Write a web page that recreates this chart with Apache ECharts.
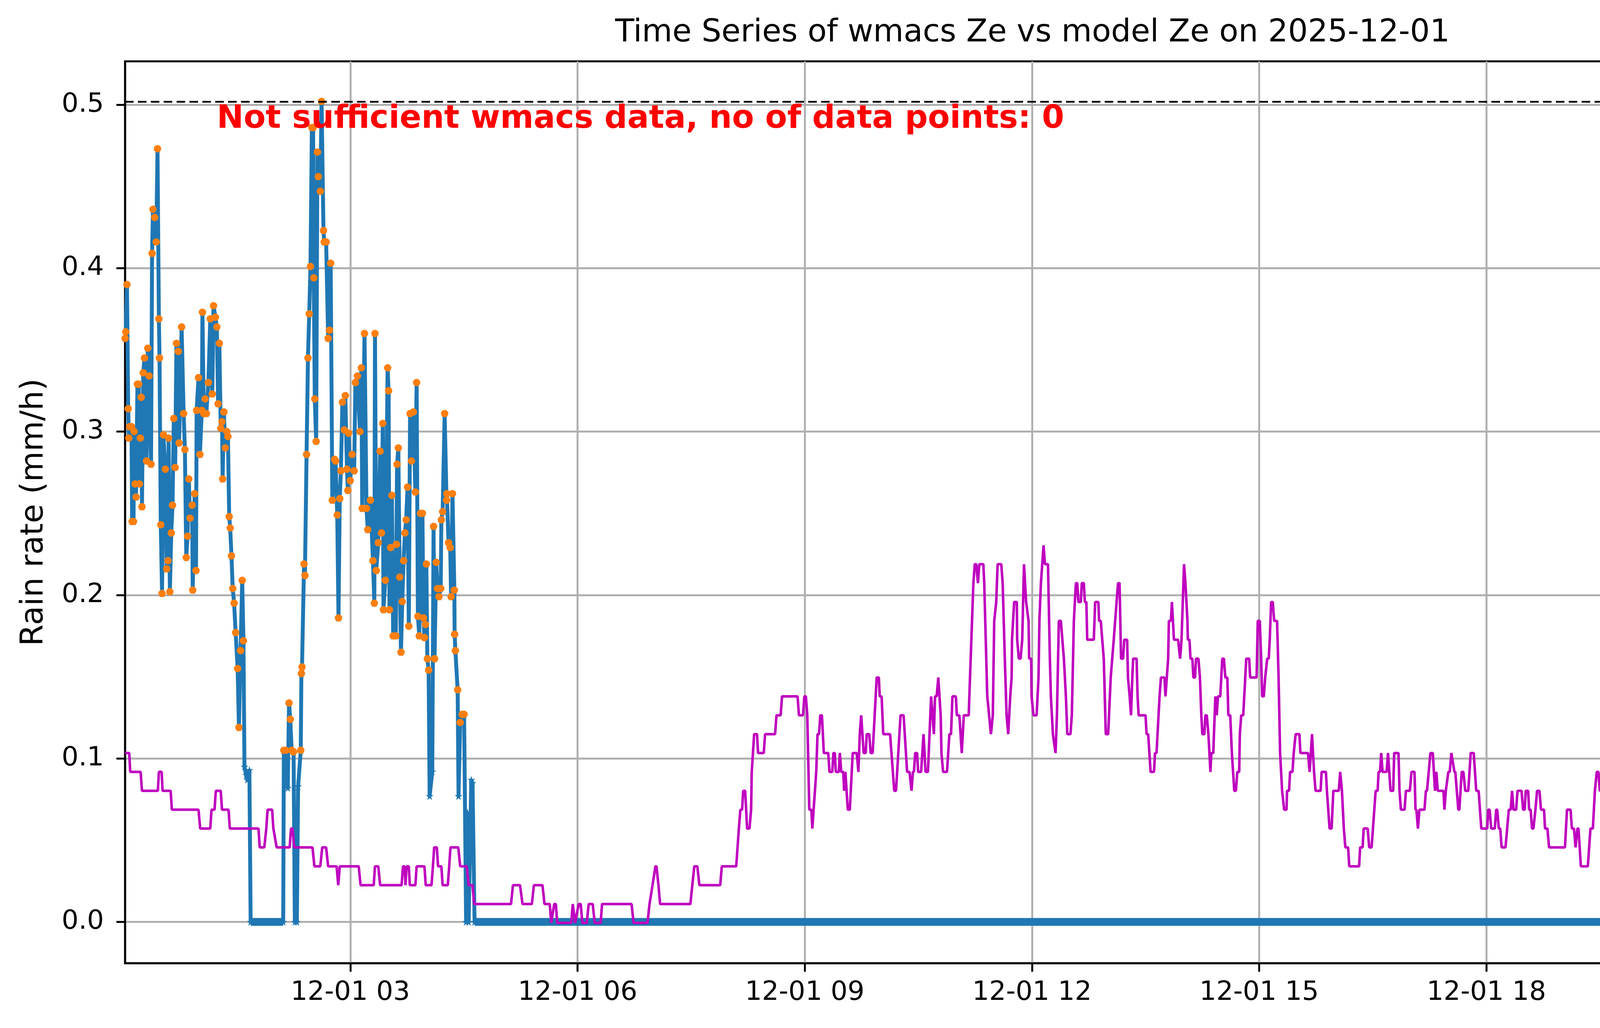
<!DOCTYPE html>
<html>
<head>
<meta charset="utf-8">
<script src="https://cdn.jsdelivr.net/npm/echarts@6/dist/echarts.min.js"></script>
<style>
html,body{margin:0;padding:0;background:#fff;}
#chart{width:5219px;height:2631px;}
</style>
</head>
<body>
<div id="chart"></div>
<script>
// ---------- DATA (minutes after 2025-12-01 00:00) ----------
const titleText = 'Time Series of wmacs Ze vs model Ze on 2025-12-01';
const warnText = 'Not sufficient wmacs data, no of data points: 0';
const leftLabel = 'Rain rate (mm/h)';
const rightLabel = 'Temperature (° C)';
const seriesNames = ['before filtering', 'after filtering'];

const xTickMinutes = [180, 360, 540, 720, 900, 1080, 1260];
const rainTicks = [0, 0.1, 0.2, 0.3, 0.4, 0.5];
const tempTicks = [1, 2, 3, 4, 5];
const tempThreshold = 5;
const filterThreshold = 0.1;

// rain rate (before filtering) [minute, mm/h]
const rainSeries = [
[1.5,.357],[2.1,.361],[3.0,.390],[4.0,.314],[4.5,.296],[5.1,.303],[6.6,.303],[7.1,.245],[8.2,.245],[8.7,.300],
[9.5,.268],[10.2,.260],[11.3,.329],[12.3,.329],[12.8,.268],[13.6,.296],[14.3,.321],[14.9,.254],[15.9,.336],[16.9,.345],
[18.5,.282],[19.5,.351],[20.5,.334],[22.1,.280],[22.9,.409],[23.6,.436],[25.0,.431],[26.2,.416],[27.2,.473],[28.3,.369],
[28.8,.345],[29.8,.243],[30.8,.201],[31.9,.298],[33.4,.277],[34.5,.216],[35.5,.221],[36.0,.296],[37.0,.202],[38.1,.238],
[39.1,.255],[40.1,.308],[41.2,.278],[42.2,.354],[43.7,.349],[44.3,.293],[46.3,.364],[47.9,.311],[48.9,.289],[50.0,.223],
[51.0,.236],[52.0,.271],[53.0,.247],[54.6,.255],[55.1,.203],[56.6,.262],[57.7,.215],[58.2,.313],[59.7,.333],[60.8,.286],
[62.3,.313],[62.8,.373],[63.9,.311],[64.9,.320],[65.9,.311],[67.5,.330],[69.0,.369],[70.6,.323],[71.6,.377],[73.1,.370],
[74.2,.364],[75.2,.317],[76.2,.354],[77.3,.302],[78.3,.306],[78.8,.271],[79.8,.312],[80.9,.290],[82.1,.300],[83.0,.297],
[84.0,.248],[84.8,.241],[85.8,.224],[86.8,.204],[87.9,.195],[89.1,.177],[90.7,.155],[91.7,.119],[93.0,.166],[94.3,.209],
[95.3,.172],[96.1,.095],[97.4,.090],[98.4,.087],[100.0,.093],[101.0,0],[126.8,0],[127.3,.105],[128.8,.105],[130.4,.082],
[131.4,.134],[132.4,.124],[133.5,.105],[135.0,.104],[136.0,0],[137.6,0],[138.6,.083],[140.7,.105],[141.2,.152],[141.7,.156],
[143.3,.219],[144.0,.212],[145.3,.286],[146.4,.345],[147.4,.372],[148.4,.401],[149.5,.486],[150.5,.486],[151.0,.394],[151.8,.320],
[152.9,.294],[153.9,.471],[154.6,.456],[156.2,.447],[157.2,.502],[158.7,.423],[159.3,.416],[160.8,.416],[162.4,.357],[163.4,.362],
[164.4,.403],[165.7,.258],[167.5,.283],[168.3,.282],[169.6,.249],[170.6,.186],[171.6,.259],[172.5,.276],[173.7,.318],[175.2,.301],
[176.0,.322],[177.3,.277],[178.0,.264],[178.6,.299],[179.9,.270],[181.4,.286],[183.0,.276],[184.0,.330],[185.6,.334],[187.6,.300],
[188.7,.339],[189.4,.253],[191.2,.360],[192.8,.253],[193.8,.240],[195.9,.258],[197.9,.221],[199.0,.195],[199.5,.360],[200.5,.215],
[202.1,.232],[203.6,.288],[204.6,.238],[205.7,.305],[206.2,.191],[207.7,.209],[209.5,.339],[210.3,.325],[211.0,.191],[211.9,.229],
[212.9,.261],[213.9,.175],[216.0,.175],[216.5,.231],[217.0,.280],[218.0,.290],[219.1,.211],[220.1,.165],[221.1,.196],[222.2,.221],
[223.2,.238],[224.2,.246],[225.3,.266],[226.3,.181],[227.3,.311],[228.4,.282],[229.9,.312],[231.5,.263],[232.5,.330],[233.5,.187],
[234.6,.175],[235.6,.250],[237.1,.250],[237.9,.186],[238.7,.174],[239.5,.182],[240.2,.219],[241.0,.161],[242.0,.154],[242.8,.077],
[244.9,.092],[245.9,.242],[246.7,.161],[248.0,.220],[249.0,.204],[250.2,.199],[251.6,.204],[252.1,.246],[253.1,.251],[254.7,.311],
[256.2,.258],[256.4,.262],[257.8,.232],[259.1,.229],[259.8,.199],[260.9,.262],[262.4,.203],[262.6,.176],[263.2,.166],[265.0,.142],
[265.7,.077],[267.0,.122],[268.6,.127],[270.1,.127],[271.7,0],[272.7,.067],[273.7,0],[275.8,.087],[276.8,.085],[278.4,0],
[1439.3,0]
];
// stretches where the 1-minute rain record is 0 (dense star markers) [start, end]
const zeroRuns = [[101.0, 126.8], [278.4, 1439.3]];

// temperature [minute, deg C]
const tempSeries = [
[1.5,1.55],[4.8,1.55],[5.6,1.45],[13.8,1.45],[14.9,1.35],[27.5,1.35],[28.3,1.45],[30.5,1.45],[31.2,1.35],[37.6,1.35],
[38.6,1.25],[59.7,1.25],[61.0,1.15],[69.0,1.15],[70.0,1.25],[72.4,1.25],[73.4,1.35],[77.3,1.35],[78.3,1.25],[83.5,1.25],
[84.5,1.15],[107.2,1.15],[108.2,1.05],[111.8,1.05],[113.4,1.15],[114.4,1.25],[118.0,1.25],[119.0,1.15],[121.6,1.05],[131.9,1.05],
[133.0,1.15],[134.2,1.15],[135.5,1.05],[150.0,1.05],[151.5,0.95],[156.2,0.95],[157.7,1.05],[160.8,1.05],[162.4,0.95],[169.1,0.95],
[170.4,0.85],[171.6,0.95],[186.6,0.95],[188.1,0.85],[198.5,0.85],[199.5,0.95],[202.1,0.95],[203.6,0.85],[220.6,0.85],[221.7,0.95],
[223.0,0.95],[223.7,0.85],[224.5,0.95],[226.3,0.95],[227.1,0.85],[231.5,0.85],[232.5,0.95],[238.7,0.95],[239.7,0.85],[244.3,0.85],
[245.4,0.95],[246.4,1.05],[248.5,1.05],[249.5,0.95],[252.1,0.95],[253.1,0.85],[257.2,0.85],[258.3,0.95],[259.3,1.05],[265.5,1.05],
[267.0,0.95],[272.2,0.95],[273.7,0.85],[276.8,0.85],[278.1,0.75],[307.3,0.75],[308.8,0.85],[314.4,0.85],[316.4,0.75],[323.8,0.75],
[325.4,0.85],[332.2,0.85],[333.8,0.75],[338.0,0.75],[339.1,0.65],[341.5,0.75],[342.8,0.75],[343.9,0.65],[355.0,0.65],[356.2,0.75],
[358.1,0.65],[360.9,0.75],[362.5,0.75],[363.8,0.65],[367.3,0.65],[368.8,0.75],[372.0,0.75],[373.6,0.65],[378.3,0.65],[379.4,0.75],
[402.8,0.75],[404.4,0.65],[415.4,0.65],[417.0,0.75],[419.4,0.85],[421.7,0.95],[422.5,0.95],[424.1,0.85],[425.4,0.75],[449.4,0.75],
[450.9,0.85],[452.5,0.95],[454.9,0.95],[456.5,0.85],[473.0,0.85],[474.3,0.95],[485.7,0.95],[487.8,1.15],[489.0,1.25],[490.4,1.25],
[491.2,1.35],[492.8,1.35],[494.3,1.15],[496.2,1.15],[497.5,1.25],[498.0,1.45],[499.9,1.65],[502.2,1.65],[503.0,1.55],[507.5,1.55],
[508.6,1.65],[516.5,1.65],[517.6,1.75],[520.9,1.75],[522.0,1.85],[534.3,1.85],[535.4,1.75],[538.6,1.75],[539.7,1.85],[540.9,1.85],
[542.0,1.75],[543.6,1.25],[545.2,1.25],[546.0,1.15],[549.1,1.45],[550.1,1.65],[551.3,1.65],[552.3,1.75],[553.6,1.75],[555.1,1.55],
[558.6,1.55],[559.6,1.45],[561.8,1.45],[562.7,1.55],[563.8,1.55],[564.6,1.45],[567.0,1.45],[567.8,1.55],[568.9,1.45],[570.5,1.45],
[571.2,1.35],[572.2,1.45],[574.1,1.25],[575.7,1.25],[578.0,1.55],[581.2,1.55],[582.5,1.45],[583.6,1.65],[584.7,1.75],[586.7,1.55],
[588.3,1.55],[589.1,1.65],[591.1,1.65],[592.2,1.55],[593.8,1.55],[597.0,1.95],[598.7,1.95],[599.4,1.85],[600.9,1.85],[602.2,1.65],
[607.6,1.65],[610.9,1.35],[612.3,1.35],[615.9,1.75],[618.3,1.75],[621.1,1.45],[623.0,1.45],[624.6,1.35],[625.7,1.45],[626.5,1.45],
[627.5,1.55],[629.0,1.55],[629.8,1.45],[632.2,1.45],[634.1,1.65],[635.7,1.45],[637.6,1.45],[640.1,1.85],[642.3,1.65],[643.2,1.85],
[644.5,1.85],[645.8,1.95],[647.7,1.75],[648.3,1.55],[649.6,1.45],[652.7,1.45],[654.6,1.65],[655.9,1.65],[657.0,1.85],[659.7,1.85],
[660.5,1.75],[662.5,1.75],[664.4,1.55],[666.0,1.75],[669.9,1.75],[670.4,1.85],[673.6,2.45],[674.7,2.55],[675.9,2.55],[677.2,2.45],
[678.3,2.55],[681.5,2.55],[682.2,2.45],[684.6,1.85],[687.5,1.65],[689.0,1.75],[690.1,2.25],[691.7,2.35],[692.8,2.55],[695.7,2.55],
[696.8,2.45],[698.5,2.05],[699.9,1.75],[701.2,1.65],[702.8,1.85],[703.9,1.95],[704.2,2.15],[705.9,2.35],[708.0,2.35],[708.3,2.15],
[709.6,2.05],[711.0,2.05],[712.3,2.15],[713.7,2.55],[715.4,2.35],[717.3,2.25],[717.8,2.05],[719.4,2.05],[719.7,1.85],[721.2,1.75],
[723.7,1.75],[725.2,1.95],[725.9,2.25],[727.1,2.45],[729.2,2.65],[730.3,2.55],[732.7,2.55],[734.2,2.05],[735.0,1.85],[736.6,1.65],
[738.7,1.55],[739.8,1.75],[741.3,2.25],[742.9,2.25],[745.3,2.05],[746.9,1.85],[748.0,1.65],[750.5,1.65],[751.6,1.75],[753.2,2.25],
[754.8,2.45],[755.9,2.45],[756.8,2.35],[758.7,2.35],[759.5,2.45],[761.1,2.45],[761.9,2.35],[763.1,2.35],[763.8,2.15],[769.0,2.15],
[770.1,2.35],[772.6,2.35],[773.2,2.25],[774.5,2.25],[776.9,2.05],[778.5,1.65],[780.4,1.65],[782.4,1.95],[784.8,2.15],[788.2,2.45],
[789.4,2.45],[790.6,2.05],[792.2,2.05],[793.1,2.15],[795.4,2.15],[796.1,1.95],[797.4,1.85],[798.5,1.75],[799.5,1.95],[800.2,2.05],
[802.9,2.05],[803.7,1.85],[804.5,1.75],[810.0,1.75],[810.8,1.65],[812.1,1.65],[814.0,1.45],[816.7,1.45],[817.5,1.55],[818.7,1.55],
[821.1,1.85],[822.2,1.95],[825.0,1.95],[825.8,1.85],[827.9,2.05],[828.5,2.25],[830.1,2.25],[830.9,2.35],[832.5,2.15],[835.8,2.15],
[837.4,2.05],[838.5,2.15],[840.5,2.55],[841.6,2.45],[843.2,2.25],[843.5,2.15],[844.8,2.15],[845.6,2.05],[847.1,2.05],[847.9,1.95],
[849.2,1.95],[850.0,2.05],[851.9,2.05],[853.1,1.95],[854.2,1.75],[855.0,1.65],[856.6,1.65],[857.4,1.75],[858.5,1.75],[859.8,1.65],
[861.4,1.45],[862.1,1.55],[863.7,1.55],[864.2,1.65],[865.3,1.85],[866.4,1.75],[867.4,1.85],[869.2,1.85],[870.8,2.05],[872.1,2.05],
[873.2,1.95],[874.8,1.95],[875.6,1.75],[877.1,1.75],[878.4,1.55],[880.3,1.35],[881.6,1.35],[882.7,1.45],[884.2,1.45],[884.7,1.65],
[885.8,1.75],[887.4,1.75],[889.8,2.05],[892.1,2.05],[892.9,1.95],[898.0,1.95],[898.9,2.25],[900.5,2.25],[901.6,2.05],[902.4,1.85],
[903.7,1.85],[904.8,1.95],[906.4,2.05],[907.6,2.05],[908.4,2.15],[909.5,2.35],[910.8,2.35],[911.9,2.25],[914.2,2.25],[915.4,1.95],
[916.6,1.55],[918.2,1.35],[919.8,1.25],[921.7,1.25],[922.1,1.35],[923.7,1.35],[924.5,1.45],[926.4,1.45],[927.4,1.55],[928.9,1.65],
[931.9,1.65],[932.7,1.55],[938.7,1.55],[940.0,1.45],[941.9,1.65],[943.5,1.45],[944.7,1.35],[948.7,1.35],[949.5,1.45],[952.9,1.45],
[953.7,1.35],[955.8,1.15],[957.4,1.15],[958.8,1.35],[963.1,1.35],[964.2,1.45],[965.6,1.35],[967.1,1.15],[968.3,1.05],[970.5,1.05],
[971.4,0.95],[979.2,0.95],[980.0,1.05],[982.0,1.05],[982.8,1.15],[986.0,1.15],[987.2,1.05],[989.1,1.05],[992.3,1.35],[993.9,1.35],
[994.6,1.45],[995.8,1.45],[996.7,1.55],[997.8,1.45],[1001.0,1.45],[1002.1,1.55],[1004.1,1.35],[1006.2,1.35],[1007.0,1.55],[1010.4,1.55],
[1011.2,1.35],[1012.3,1.25],[1015.2,1.25],[1016.3,1.35],[1019.4,1.35],[1020.7,1.45],[1023.1,1.45],[1023.9,1.25],[1024.6,1.25],[1025.8,1.15],
[1027.0,1.25],[1031.0,1.25],[1032.1,1.35],[1033.0,1.35],[1035.7,1.55],[1037.6,1.55],[1039.3,1.35],[1040.4,1.45],[1041.5,1.35],[1046.0,1.35],
[1046.8,1.25],[1047.9,1.35],[1049.9,1.45],[1051.0,1.45],[1052.3,1.55],[1052.8,1.55],[1054.7,1.45],[1055.4,1.45],[1057.8,1.25],[1058.6,1.25],
[1060.5,1.45],[1061.8,1.45],[1063.3,1.35],[1065.7,1.35],[1067.6,1.55],[1070.0,1.55],[1072.0,1.35],[1073.9,1.35],[1076.0,1.15],[1080.7,1.15],
[1081.5,1.25],[1082.6,1.25],[1083.9,1.15],[1086.7,1.15],[1087.8,1.25],[1088.6,1.25],[1089.9,1.15],[1091.0,1.15],[1092.1,1.05],[1095.2,1.05],
[1096.5,1.15],[1097.8,1.25],[1099.3,1.25],[1100.4,1.35],[1101.5,1.25],[1103.6,1.25],[1104.7,1.35],[1107.9,1.35],[1109.1,1.25],[1110.4,1.25],
[1111.2,1.35],[1113.1,1.35],[1113.9,1.25],[1115.1,1.25],[1116.2,1.15],[1117.3,1.15],[1118.9,1.25],[1120.2,1.35],[1122.1,1.35],[1123.3,1.25],
[1125.7,1.25],[1126.5,1.15],[1128.4,1.15],[1129.7,1.05],[1142.3,1.05],[1143.9,1.25],[1146.7,1.25],[1147.8,1.15],[1149.4,1.15],[1150.7,1.05],
[1152.1,1.15],[1153.0,1.15],[1154.9,0.95],[1160.4,0.95],[1162.5,1.15],[1164.4,1.15],[1166.0,1.35],[1167.5,1.45],[1168.8,1.45],[1169.9,1.35],
[1171.5,1.35],[1173.9,1.15],[1175.0,1.15],[1177.3,0.95],[1178.6,0.95],[1180.5,1.15],[1182.5,1.15],[1183.3,1.25],[1184.9,1.35],[1186.2,1.25],
[1187.4,1.25],[1188.6,1.35],[1191.8,1.35],[1192.8,1.45],[1194.0,1.45],[1194.8,1.55],[1195.9,1.55],[1196.9,1.45],[1198.1,1.45],[1198.9,1.25],
[1201.3,1.05],[1203.0,1.15],[1206.3,1.15],[1207.2,1.25],[1208.2,1.15],[1212.5,1.15],[1213.3,1.35],[1215.8,1.55],[1217.7,1.35],[1219.4,1.35],
[1220.2,1.25],[1221.0,1.25],[1221.8,1.15],[1224.0,1.15],[1225.1,1.05],[1227.5,1.35],[1230.0,1.35],[1232.5,1.15],[1236.6,1.15],[1237.7,1.05],
[1239.5,1.05],[1240.7,1.15],[1243.9,1.15],[1244.7,1.25],[1245.9,1.25],[1248.0,1.05],[1249.2,0.95],[1252.1,0.95],[1253.8,0.85],[1255.7,0.85],
[1258.7,1.15],[1259.8,1.15],[1261.1,1.05],[1265.2,1.05],[1266.4,1.15],[1267.2,1.15],[1268.5,1.05],[1270.1,1.05],[1271.3,0.95],[1274.2,0.95],
[1275.4,0.85],[1276.4,0.95],[1277.5,0.85],[1279.1,0.95],[1280.3,0.85],[1281.6,0.85],[1283.2,0.95],[1285.7,0.95],[1287.3,0.85],[1289.8,0.85],
[1291.8,0.75],[1293.4,0.85],[1295.5,0.85],[1296.3,0.95],[1298.0,1.15],[1300.4,1.15],[1302.9,0.95],[1313.1,0.95],[1315.2,0.75],[1318.1,0.75],
[1320.1,0.85],[1321.7,0.75],[1323.4,0.65],[1329.9,0.65],[1331.1,0.75],[1333.2,0.75],[1334.3,0.85],[1338.6,0.85],[1339.4,0.95],[1342.5,0.95],
[1343.9,0.85],[1345.5,0.95],[1347.9,0.95],[1349.6,0.75],[1351.7,0.75],[1352.9,0.65],[1363.5,0.65],[1366.0,0.85],[1367.6,0.75],[1370.9,0.75],
[1372.8,0.95],[1375.8,0.85],[1377.9,1.05],[1380.7,0.85],[1382.0,0.95],[1383.2,0.85],[1384.8,0.85],[1386.8,0.65],[1388.9,0.85],[1390.0,0.95],
[1392.2,1.05],[1394.6,1.05],[1395.4,0.95],[1399.0,0.75],[1401.2,0.85],[1404.1,0.85],[1405.3,0.95],[1416.7,0.95],[1417.9,1.05],[1420.0,1.05],
[1421.2,1.15],[1423.3,1.25],[1424.9,1.25],[1427.4,0.95],[1429.4,0.95],[1430.7,1.05],[1432.3,1.15],[1434.3,1.15],[1436.4,0.95],[1439.0,0.95]
];

// ---------- CHART ----------
const FONT = 'DejaVu Sans';
const BLUE = '#1f77b4', ORANGE = '#ff7f0e', MAG = '#bf00bf', GRID = '#b0b0b0';
const STAR = 'path://M0,-10L2.245,-3.09L9.51,-3.09L3.633,1.18L5.878,8.09L0,3.82L-5.878,8.09L-3.633,1.18L-9.51,-3.09L-2.245,-3.09Z';

const afterFiltering = rainSeries.filter(p => p[1] >= filterThreshold);
const pad2 = n => String(n).padStart(2, '0');

const chart = echarts.init(document.getElementById('chart'), null, {renderer: 'canvas'});

const zeroBandSeries = zeroRuns.map((r, i) => ({
  name: 'zero' + i, type: 'line', xAxisIndex: 0, yAxisIndex: 0,
  data: [[r[0], 0], [r[1], 0]], showSymbol: false, symbol: 'none',
  lineStyle: {color: BLUE, width: 20}, silent: true, z: 2, animation: false
}));

chart.setOption({
  animation: false,
  backgroundColor: '#ffffff',
  textStyle: {fontFamily: FONT},
  grid: {left: 320, right: 253, top: 157, bottom: 166, show: true, borderColor: '#000', borderWidth: 5, backgroundColor: 'transparent'},
  xAxis: {
    type: 'value', min: 1.45, max: 1439.3,
    axisLine: {show: true, onZero: false, lineStyle: {color: '#000', width: 5}},
    axisTick: {show: true, customValues: xTickMinutes, length: 22, lineStyle: {color: '#000', width: 5}},
    axisLabel: {customValues: xTickMinutes, formatter: v => '12-01 ' + pad2(Math.round(v / 60)), fontSize: 68, fontFamily: FONT, color: '#000', margin: 42},
    splitLine: {show: true, lineStyle: {color: GRID, width: 5}}
  },
  yAxis: [{
    type: 'value', position: 'left', min: -0.0252, max: 0.5265,
    axisLine: {show: true, onZero: false, lineStyle: {color: '#000', width: 5}},
    axisTick: {show: true, customValues: rainTicks, length: 22, lineStyle: {color: '#000', width: 5}},
    axisLabel: {customValues: rainTicks, formatter: v => v.toFixed(1), fontSize: 68, fontFamily: FONT, color: '#000', margin: 54},
    splitLine: {show: true, lineStyle: {color: GRID, width: 5}}
  }, {
    type: 'value', position: 'right', min: 0.437, max: 5.214,
    axisLine: {show: true, onZero: false, lineStyle: {color: MAG, width: 5}},
    axisTick: {show: true, customValues: tempTicks, length: 22, lineStyle: {color: '#000', width: 5}},
    axisLabel: {customValues: tempTicks, formatter: v => String(v), fontSize: 68, fontFamily: FONT, color: '#000', margin: 53},
    splitLine: {show: false}
  }],
  legend: {
    data: seriesNames, orient: 'vertical', right: 285, top: 195, align: 'left',
    itemWidth: 148, itemHeight: 20, itemGap: 34,
    padding: [14, 34, 29, 25],
    backgroundColor: 'rgba(255,255,255,0.8)', borderColor: '#cccccc', borderWidth: 4, borderRadius: 14,
    textStyle: {fontSize: 68, fontFamily: FONT, color: '#000', lineHeight: 70, padding: [0, 0, 0, 49]},
    z: 3
  },
  series: [
    ...zeroBandSeries,
    {
      name: seriesNames[0], type: 'line', xAxisIndex: 0, yAxisIndex: 0,
      data: rainSeries, symbol: STAR, symbolSize: 20, showSymbol: true, showAllSymbol: true,
      itemStyle: {color: BLUE}, lineStyle: {color: BLUE, width: 10}, z: 2
    },
    {
      name: seriesNames[1], type: 'scatter', xAxisIndex: 0, yAxisIndex: 0,
      data: afterFiltering, symbol: 'circle', symbolSize: 19,
      itemStyle: {color: ORANGE, opacity: 1}, z: 3
    },
    {
      name: 'temperature', type: 'line', xAxisIndex: 0, yAxisIndex: 1,
      data: tempSeries, showSymbol: false, symbol: 'none',
      lineStyle: {color: MAG, width: 6.5}, z: 5,
      markLine: {
        silent: true, symbol: ['none', 'none'], label: {show: false},
        lineStyle: {color: '#000', type: [22, 11], width: 4.5},
        data: [{yAxis: tempThreshold}]
      }
    }
  ],
  graphic: [
    {type: 'text', x: 2643, y: 85, z: 10,
     style: {text: titleText, fontSize: 80, fontFamily: FONT, fill: '#000', textAlign: 'center', textVerticalAlign: 'middle'}},
    {type: 'text', x: 555, y: 306, z: 10,
     style: {text: warnText, fontSize: 82, fontWeight: 'bold', fontFamily: FONT, fill: '#ff0000', textAlign: 'left', textVerticalAlign: 'middle'}},
    {type: 'text', x: 88, y: 1311, rotation: Math.PI / 2, z: 10,
     style: {text: leftLabel, fontSize: 80, fontFamily: FONT, fill: '#000', textAlign: 'center', textVerticalAlign: 'middle'}},
    {type: 'text', x: 5123, y: 1311, rotation: Math.PI / 2, z: 10,
     style: {text: rightLabel, fontSize: 80, fontFamily: FONT, fill: '#000', textAlign: 'center', textVerticalAlign: 'middle'}}
  ]
});
</script>
</body>
</html>
